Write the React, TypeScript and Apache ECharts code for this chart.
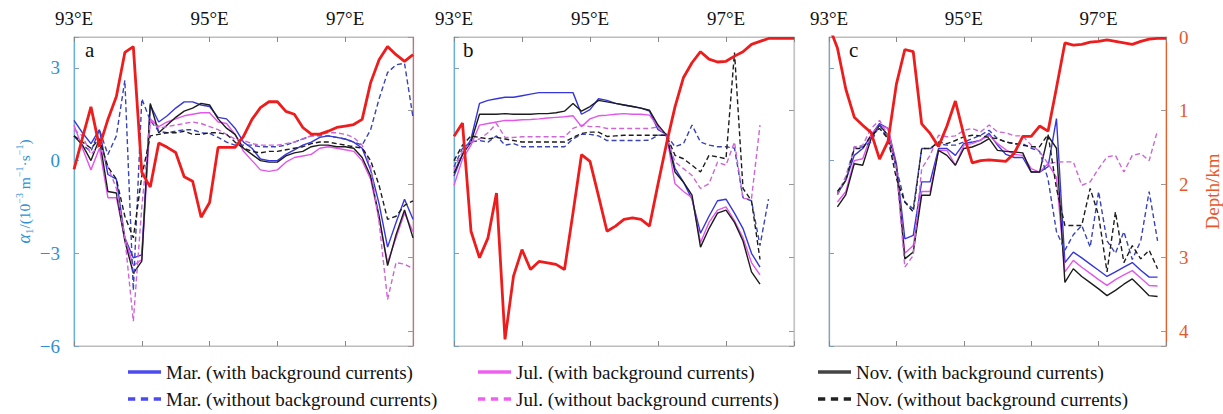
import React, { useEffect, useRef } from 'react';
import * as echarts from 'echarts';

const FONT = '"Liberation Serif", "Times New Roman", serif';

const LON = [93, 93.125, 93.25, 93.375, 93.5, 93.625, 93.75, 93.875, 94, 94.125,
  94.25, 94.375, 94.5, 94.625, 94.75, 94.875, 95, 95.125, 95.25, 95.375,
  95.5, 95.625, 95.75, 95.875, 96, 96.125, 96.25, 96.375, 96.5, 96.625,
  96.75, 96.875, 97, 97.125, 97.25, 97.375, 97.5, 97.625, 97.75, 97.875, 98];

const NAMES = [
  'Mar. (with background currents)',
  'Jul. (with background currents)',
  'Nov. (with background currents)',
  'Mar. (without background currents)',
  'Jul. (without background currents)',
  'Nov. (without background currents)',
];
const COLORS = ['#3636dc', '#e356ea', '#1c1c1c', '#3a44b4', '#cc66d6', '#1c1c1c'];
const LEGEND_COLORS = ['#4b4bf0', '#f060f0', '#444444', '#4b4bf0', '#f060f0', '#222222'];
const DASHED = [false, false, false, true, true, true];

const X_TICK_LABELS = ['93°E', '95°E', '97°E'];
const PANEL_LETTERS = ['a', 'b', 'c'];

// Panel a
const A_MAR_WITH = [1.3, 0.9, 0.55, 1.0, -0.45, -0.6, -2.5, -3.15, -3.05, 1.8,
  1.25, 1.45, 1.7, 1.9, 1.9, 1.8, 1.75, 1.4, 1.35, 1.05,
  0.6, 0.4, 0.05, 0.0, 0.0, 0.2, 0.35, 0.5, 0.6, 0.75,
  0.8, 0.75, 0.7, 0.6, 0.4, -0.3, -1.4, -2.8, -2.0, -1.25, -1.9];
const A_JUL_WITH = [1.15, 0.4, -0.3, 0.4, -1.2, -1.2, -2.5, -3.4, -3.2, 1.35,
  1.1, 1.25, 1.35, 1.45, 1.5, 1.55, 1.55, 1.25, 1.2, 0.85,
  0.3, 0.0, -0.3, -0.35, -0.3, -0.05, 0.1, 0.15, 0.2, 0.4,
  0.45, 0.4, 0.35, 0.3, 0.0, -0.6, -1.9, -3.3, -2.5, -1.7, -2.3];
const A_NOV_WITH = [0.8, 0.5, 0.0, 0.7, -1.0, -1.05, -2.6, -3.65, -3.25, 1.85,
  0.9, 1.15, 1.4, 1.6, 1.7, 1.85, 1.8, 1.35, 1.05, 0.85,
  0.4, 0.2, 0.0, -0.05, -0.05, 0.15, 0.25, 0.3, 0.45, 0.5,
  0.5, 0.45, 0.45, 0.4, 0.1, -0.5, -1.8, -3.4, -2.4, -1.6, -2.5];
const A_MAR_WITHOUT = [0.8, 0.5, 0.3, 1.0, 0.2, 0.8, 2.6, -4.2, 2.0, 1.3,
  0.95, 0.9, 0.95, 1.0, 1.0, 0.9, 0.88, 0.75, 0.6, 0.5,
  0.5, 0.5, 0.45, 0.45, 0.45, 0.5, 0.6, 0.7, 0.8, 0.8,
  0.8, 0.75, 0.7, 0.6, 0.5, 1.0, 2.0, 2.85, 3.1, 3.15, 1.4];
const A_JUL_WITHOUT = [1.0, 0.8, 0.2, 0.5, -0.2, -0.9, -2.5, -5.2, -1.5, 1.3,
  1.05, 1.1, 1.15, 1.2, 1.25, 1.2, 1.1, 1.0, 0.85, 0.7,
  0.65, 0.55, 0.5, 0.5, 0.5, 0.55, 0.6, 0.7, 0.8, 0.85,
  0.9, 0.9, 0.85, 0.75, 0.5, -0.2, -2.0, -4.5, -3.3, -3.35, -3.5];
const A_NOV_WITHOUT = [0.8, 0.6, 0.4, 0.7, -0.2, -0.6, -1.8, -2.5, -0.5, 0.8,
  0.85, 0.9, 0.9, 0.95, 0.85, 0.85, 0.9, 0.9, 0.85, 0.6,
  0.4, 0.3, 0.25, 0.3, 0.3, 0.35, 0.4, 0.45, 0.55, 0.6,
  0.6, 0.55, 0.5, 0.45, 0.4, 0.0, -0.8, -1.9, -1.8, -1.45, -1.3];
const A_DEPTH = [1.80, 1.37, 0.95, 1.49, 1.12, 0.81, 0.21, 0.13, 1.84, 2.04,
  1.44, 1.50, 1.57, 1.90, 1.96, 2.45, 2.25, 1.50, 1.50, 1.50,
  1.35, 1.12, 0.96, 0.88, 0.88, 1.01, 1.05, 1.23, 1.32, 1.32,
  1.28, 1.23, 1.21, 1.19, 1.12, 0.62, 0.31, 0.13, 0.24, 0.33, 0.24];

// Panel b
const B_MAR_WITH = [-0.5, 0.2, 0.7, 1.85, 1.95, 2.0, 2.05, 2.05, 2.1, 2.15,
  2.2, 2.2, 2.2, 2.2, 2.2, 1.5, 1.65, 2.0, 1.95, 1.85,
  1.8, 1.75, 1.7, 1.6, 1.0, 0.85, -0.25, -0.7, -1.25, -2.35,
  -1.8, -1.3, -1.25, -1.7, -2.2, -3.0, -3.45, null, null, null, null];
const B_JUL_WITH = [-0.8, 0.05, 0.5, 1.15, 1.2, 1.25, 1.3, 1.3, 1.32, 1.33,
  1.35, 1.38, 1.4, 1.42, 1.45, 1.1, 1.35, 1.45, 1.47, 1.5,
  1.52, 1.5, 1.5, 1.47, 1.1, 0.82, -0.75, -1.0, -1.2, -2.65,
  -2.0, -1.6, -1.5, -1.95, -2.5, -3.3, -3.7, null, null, null, null];
const B_NOV_WITH = [-0.4, 0.2, 0.6, 1.5, 1.5, 1.5, 1.52, 1.5, 1.5, 1.5,
  1.52, 1.52, 1.55, 1.6, 1.85, 1.6, 1.75, 1.95, 1.9, 1.85,
  1.8, 1.75, 1.7, 1.63, 1.15, 0.82, -0.37, -0.7, -1.12, -2.8,
  -2.2, -1.7, -1.6, -2.0, -2.6, -3.6, -4.0, null, null, null, null];
const B_MAR_WITHOUT = [-0.2, 0.4, 0.6, 0.65, 0.6, 0.8, 0.5, 0.55, 0.45, 0.45,
  0.45, 0.45, 0.45, 0.45, 0.7, 0.85, 0.85, 0.8, 0.65, 0.65,
  0.65, 0.65, 0.65, 0.66, 0.82, 0.82, 0.45, 0.55, 1.15, 0.6,
  0.5, 0.45, 0.45, 0.4, -1.2, -1.3, -2.75, -1.25, null, null, null];
const B_JUL_WITHOUT = [-0.3, 0.3, 0.6, 0.7, 0.9, 1.2, 0.75, 0.75, 0.77, 0.77,
  0.77, 0.77, 0.77, 0.77, 1.04, 1.15, 1.1, 1.1, 1.04, 1.04,
  1.04, 1.04, 1.04, 1.04, 1.09, 0.77, -0.04, -0.26, -0.48, -0.9,
  -0.75, -0.05, -0.15, 0.6, -1.23, -1.23, 1.15, null, null, null, null];
const B_NOV_WITHOUT = [0.0, 0.5, 0.8, 0.75, 0.7, 0.75, 0.7, 0.65, 0.6, 0.6,
  0.6, 0.6, 0.6, 0.6, 0.75, 0.88, 0.92, 0.92, 0.78, 0.8,
  0.82, 0.82, 0.82, 0.82, 0.82, 0.82, 0.17, 0.06, -0.15, -0.37,
  0.17, 0.12, 0.06, 3.5, -0.9, -1.3, -3.2, null, null, null, null];
const B_DEPTH = [1.35, 1.17, 2.64, 3.0, 2.73, 2.12, 4.11, 3.25, 2.89, 3.16,
  3.05, 3.07, 3.09, 3.16, 2.39, 1.6, 1.69, 2.16, 2.64, 2.57,
  2.48, 2.46, 2.48, 2.57, 2.0, 1.45, 0.95, 0.55, 0.35, 0.2,
  0.3, 0.34, 0.33, 0.26, 0.2, 0.1, 0.06, 0.02, 0.02, 0.02, 0.02];

// Panel c
const C_MAR_WITH = [null, -1.07, -0.64, 0.17, 0.39, 0.82, 1.2, 1.04, -0.1, -2.53,
  -2.42, -0.69, -0.69, 0.39, 0.39, 0.17, 0.55, 0.6, 0.66, 0.88,
  0.5, 0.2, 0.1, 0.1, -0.37, -0.37, -0.2, 1.36, -3.3, -2.96,
  -3.15, -3.35, -3.55, -3.75, -3.6, -3.45, -3.3, -3.55, -3.77, -3.77, null];
const C_JUL_WITH = [null, -1.34, -1.0, 0.0, 0.06, 0.82, 1.15, 1.04, -0.2, -3.0,
  -2.75, -1.0, -1.0, 0.33, 0.33, -0.15, 0.5, 0.55, 0.66, 0.82,
  0.55, 0.35, 0.2, 0.17, -0.26, -0.37, -0.1, -0.55, -3.6, -3.23,
  -3.45, -3.65, -3.85, -4.04, -3.85, -3.7, -3.56, -3.8, -4.04, -4.06, null];
const C_NOV_WITH = [null, -1.5, -1.1, -0.1, -0.15, 0.71, 1.15, 0.82, -0.2, -3.18,
  -2.96, -1.12, -1.12, 0.33, 0.17, -0.15, 0.39, 0.44, 0.55, 0.71,
  0.33, 0.3, 0.28, 0.25, -0.37, -0.37, 0.8, 0.4, -3.94, -3.5,
  -3.75, -3.95, -4.15, -4.37, -4.2, -4.0, -3.83, -4.1, -4.37, -4.4, null];
const C_MAR_WITHOUT = [null, -1.1, -0.6, 0.44, 0.44, 0.6, 1.15, 0.7, -0.26, -1.34,
  -1.56, 0.39, 0.39, 0.55, 0.5, 0.5, 0.6, 0.71, 0.82, 0.98,
  0.71, 0.6, 0.55, 0.55, 0.4, 0.3, -0.6, -2.3, -2.9, -2.4,
  -2.1, -2.8, -1.0, -2.6, -3.0, -2.3, -3.2, -2.6, -1.0, -2.6, null];
const C_JUL_WITHOUT = [null, -1.1, -0.5, 0.44, 0.5, 1.04, 1.3, 0.82, -0.26, -3.45,
  -3.07, -0.26, 0.17, 0.82, 0.77, 0.8, 0.98, 1.04, 0.93, 1.15,
  0.93, 0.9, 0.8, 0.8, 0.5, 0.3, -0.1, -0.05, -0.04, -0.04,
  -0.8, -0.69, -0.26, 0.12, 0.17, -0.37, 0.17, 0.23, 0.0, 0.98, null];
const C_NOV_WITHOUT = [null, -1.0, -0.64, 0.39, 0.39, 0.82, 1.04, 0.71, -0.58, -1.34,
  -1.66, 0.39, 0.39, 0.6, 0.55, 0.65, 0.77, 0.82, 0.8, 0.75,
  0.71, 0.6, 0.55, 0.5, 0.45, 0.45, 0.85, -0.9, -2.1, -2.1,
  -2.1, -0.9, -1.77, -3.6, -1.66, -3.3, -2.75, -3.18, -2.9, -3.5, null];
const C_DEPTH = [-0.15, 0.15, 0.71, 1.09, 1.2, 1.3, 1.66, 1.42, 0.64, 0.17,
  0.2, 1.18, 1.31, 1.49, 1.21, 0.87, 1.33, 1.71, 1.68, 1.67,
  1.68, 1.69, 1.58, 1.35, 1.35, 1.21, 1.28, 0.69, 0.08, 0.11,
  0.1, 0.07, 0.06, 0.04, 0.06, 0.08, 0.1, 0.06, 0.03, 0.02, 0.02];

const PANEL_ALPHA = [
  [A_MAR_WITH, A_JUL_WITH, A_NOV_WITH, A_MAR_WITHOUT, A_JUL_WITHOUT, A_NOV_WITHOUT],
  [B_MAR_WITH, B_JUL_WITH, B_NOV_WITH, B_MAR_WITHOUT, B_JUL_WITHOUT, B_NOV_WITHOUT],
  [C_MAR_WITH, C_JUL_WITH, C_NOV_WITH, C_MAR_WITHOUT, C_JUL_WITHOUT, C_NOV_WITHOUT],
];
const PANEL_DEPTH = [A_DEPTH, B_DEPTH, C_DEPTH];

const GRIDS = [
  { left: 74, width: 339 },
  { left: 454, width: 340 },
  { left: 829, width: 339 },
];
const GRID_TOP = 37;
const GRID_H = 309;
const BLUE = '#2f8fd5';
const ORANGE = '#e8572a';
const RIGHT_LINE = ['#e06a6a', '#c4c4c4', '#e8602a'];
const LETTER_X = [85, 463, 849];

const SOLID_ICON = 'path://M0,0H10V1H0Z';
const DASH_ICON = 'path://M0,0H2.2V1H0Z M3.9,0H6.1V1H3.9Z M7.8,0H10V1H7.8Z';

function buildOption() {
  const grid = GRIDS.map((g) => ({
    left: g.left, top: GRID_TOP, width: g.width, height: GRID_H,
    show: true, borderColor: '#bdbdbd', borderWidth: 1, backgroundColor: 'transparent',
  }));
  const xAxis: any[] = [];
  const yAxis: any[] = [];
  for (let p = 0; p < 3; p++) {
    xAxis.push({
      type: 'value', gridIndex: p, position: 'top', min: 93, max: 98, interval: 1,
      axisLine: { show: true, onZero: false, lineStyle: { color: '#bdbdbd' } },
      axisTick: { show: true, inside: true, length: 5, lineStyle: { color: '#888' } },
      splitLine: { show: false },
      axisLabel: {
        margin: 9, color: '#111', fontFamily: FONT, fontSize: 19,
        formatter: (v: number) => {
          const s = `${v}°E`;
          return X_TICK_LABELS.indexOf(s) >= 0 ? s : '';
        },
      },
    });
    xAxis.push({
      type: 'value', gridIndex: p, position: 'bottom', min: 93, max: 98, interval: 1,
      axisLine: { show: true, onZero: false, lineStyle: { color: '#bdbdbd' } },
      axisTick: { show: true, inside: true, length: 5, lineStyle: { color: '#888' } },
      splitLine: { show: false },
      axisLabel: { show: false },
    });
    yAxis.push({
      type: 'value', gridIndex: p, position: 'left', min: -6, max: 4, interval: 3,
      axisLine: { show: true, onZero: false, lineStyle: { color: '#6aaedc', width: 1.2 } },
      axisTick: { show: true, inside: true, length: 5, lineStyle: { color: '#7a9fbf' } },
      splitLine: { show: false },
      axisLabel: {
        show: p === 0, margin: 14, color: BLUE, fontFamily: FONT, fontSize: 19,
        formatter: (v: number) => (v > 3 ? '' : v < 0 ? '\u2212' + Math.abs(v) : String(v)),
      },
      name: p === 0 ? '{i|α}{s|1}{n|/(10}{p|−3}{n| m}{p|−1}{n|·s}{p|−1}{n|)}' : '',
      nameLocation: 'middle', nameRotate: 90, nameGap: 40,
      nameTextStyle: {
        color: BLUE, fontFamily: FONT, fontSize: 16,
        rich: {
          i: { fontStyle: 'italic', fontSize: 18, color: BLUE, fontFamily: FONT, lineHeight: 20 },
          s: { fontSize: 11, color: BLUE, fontFamily: FONT, verticalAlign: 'bottom', lineHeight: 20 },
          n: { fontSize: 15.5, color: BLUE, fontFamily: FONT, lineHeight: 20 },
          p: { fontSize: 10, color: BLUE, fontFamily: FONT, verticalAlign: 'top', lineHeight: 20 },
        },
      },
    });
    yAxis.push({
      type: 'value', gridIndex: p, position: 'right', min: 0, max: 4.2, interval: 1, inverse: true,
      axisLine: { show: true, onZero: false, lineStyle: { color: RIGHT_LINE[p], width: 1.2 } },
      axisTick: { show: true, inside: true, length: 5, lineStyle: { color: '#999' } },
      splitLine: { show: false },
      axisLabel: {
        show: p === 2, margin: 13, color: ORANGE, fontFamily: FONT, fontSize: 19,
        formatter: (v: number) => (v > 4 ? '' : String(v)),
      },
      name: p === 2 ? 'Depth/km' : '',
      nameLocation: 'middle', nameRotate: 90, nameGap: 37,
      nameTextStyle: { color: ORANGE, fontFamily: FONT, fontSize: 19 },
    });
  }

  const series: any[] = [];
  for (let p = 0; p < 3; p++) {
    PANEL_ALPHA[p].forEach((vals, k) => {
      series.push({
        type: 'line', name: NAMES[k], xAxisIndex: 2 * p, yAxisIndex: 2 * p,
        data: LON.map((x, i) => [x, vals[i]]),
        symbol: 'none', smooth: false, connectNulls: false,
        lineStyle: { color: COLORS[k], width: 1.4, type: DASHED[k] ? [5, 3] : 'solid' },
        itemStyle: { color: LEGEND_COLORS[k] },
        z: 2,
      });
    });
    series.push({
      type: 'line', name: 'Depth', xAxisIndex: 2 * p, yAxisIndex: 2 * p + 1,
      data: LON.map((x, i) => [x, PANEL_DEPTH[p][i]]),
      symbol: 'none', smooth: false,
      lineStyle: { color: '#ee1d1d', width: 2.8 },
      itemStyle: { color: '#ee1d1d' },
      z: 3,
    });
  }

  const legendPos = [
    { left: 128, top: 362 }, { left: 478, top: 362 }, { left: 818, top: 362 },
    { left: 128, top: 389 }, { left: 478, top: 389 }, { left: 818, top: 389 },
  ];
  const legend = NAMES.map((n, k) => ({
    data: [{ name: n, icon: DASHED[k] ? DASH_ICON : SOLID_ICON, itemStyle: { color: LEGEND_COLORS[k] } }],
    left: legendPos[k].left, top: legendPos[k].top,
    itemWidth: 33, itemHeight: 4, itemGap: 0, padding: 0, selectedMode: false,
    textStyle: { fontFamily: FONT, fontSize: 19, color: '#111', lineHeight: 20 },
  }));

  const graphic = PANEL_LETTERS.map((t, p) => ({
    type: 'text', left: LETTER_X[p], top: 39,
    style: { text: t, fontSize: 21, fontFamily: FONT, fill: '#111' },
  }));

  return {
    animation: false,
    backgroundColor: '#ffffff',
    grid, xAxis, yAxis, series, legend, graphic,
  };
}

export default function App() {
  const ref = useRef<HTMLDivElement>(null);
  useEffect(() => {
    document.body.style.margin = '0';
    const chart = echarts.init(ref.current!, null, { renderer: 'svg' });
    chart.setOption(buildOption() as any);
    return () => chart.dispose();
  }, []);
  return <div ref={ref} style={{ width: 1223, height: 414 }} />;
}
